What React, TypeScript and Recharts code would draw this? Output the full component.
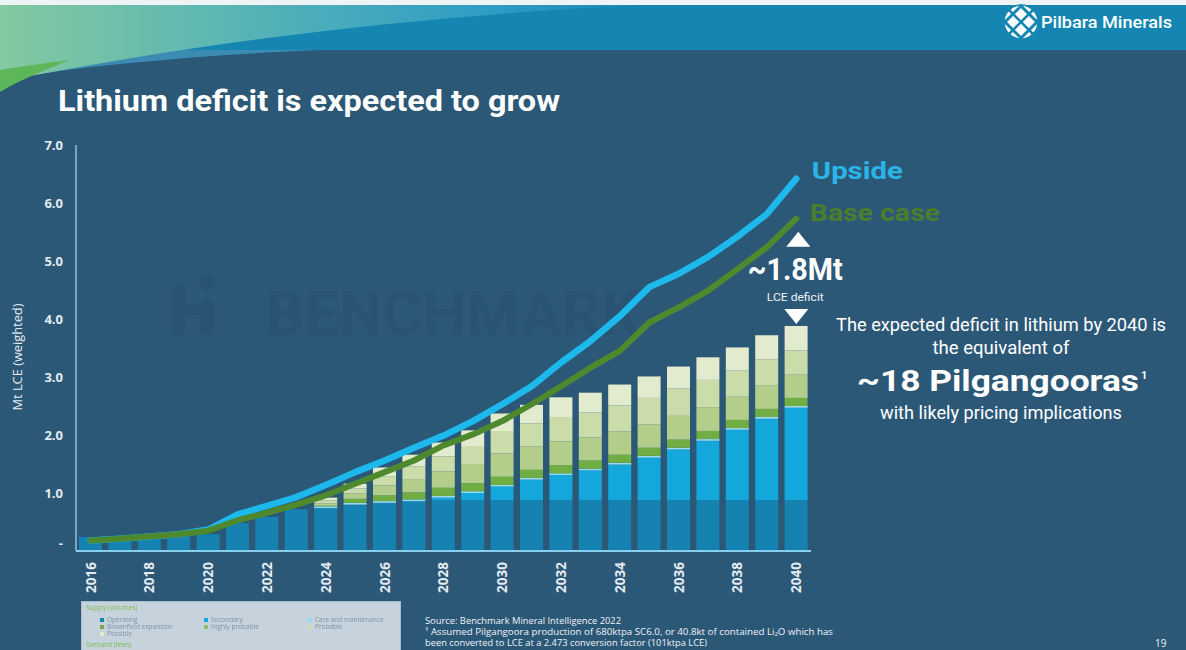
import React from 'react';
import { ComposedChart, Bar, Line, XAxis, YAxis, ReferenceDot } from 'recharts';

// Supply/demand outlook, Mt LCE (weighted)
const years = [
  '2016', '2017', '2018', '2019', '2020', '2021', '2022', '2023', '2024', '2025', '2026', '2027', '2028',
  '2029', '2030', '2031', '2032', '2033', '2034', '2035', '2036', '2037', '2038', '2039', '2040',
];

// Supply (volumes), stacked bottom to top
const operating = [0.24, 0.22, 0.24, 0.26, 0.29, 0.48, 0.59, 0.72, 0.74, 0.79, 0.82, 0.85, 0.88, 0.88, 0.88, 0.88, 0.88, 0.88, 0.88, 0.88, 0.88, 0.88, 0.88, 0.88, 0.88];
const secondary = [0, 0, 0, 0, 0, 0, 0, 0, 0, 0.01, 0.01, 0.01, 0.04, 0.12, 0.23, 0.35, 0.43, 0.51, 0.61, 0.73, 0.87, 1.02, 1.21, 1.4, 1.59];
const careMaintenance = [0, 0, 0, 0, 0, 0, 0, 0, 0.03, 0.03, 0.03, 0.03, 0.03, 0.03, 0.03, 0.03, 0.03, 0.03, 0.03, 0.03, 0.03, 0.03, 0.03, 0.03, 0.03];
const brownfield = [0, 0, 0, 0, 0, 0, 0, 0, 0.01, 0.07, 0.1, 0.12, 0.14, 0.14, 0.14, 0.14, 0.14, 0.14, 0.14, 0.14, 0.14, 0.14, 0.14, 0.14, 0.14];
const highlyProbable = [0, 0, 0, 0, 0, 0, 0, 0, 0.04, 0.09, 0.17, 0.23, 0.28, 0.33, 0.4, 0.4, 0.41, 0.4, 0.4, 0.4, 0.41, 0.41, 0.4, 0.41, 0.4];
const probable = [0, 0, 0, 0, 0, 0, 0, 0, 0.05, 0.09, 0.16, 0.22, 0.26, 0.31, 0.39, 0.4, 0.42, 0.43, 0.45, 0.46, 0.47, 0.47, 0.45, 0.44, 0.42];
const possible = [0, 0, 0, 0, 0, 0, 0, 0, 0.05, 0.08, 0.15, 0.2, 0.24, 0.27, 0.3, 0.32, 0.34, 0.34, 0.36, 0.37, 0.38, 0.39, 0.4, 0.42, 0.42];

// Demand (lines)
const upside = [0.18, 0.21, 0.25, 0.29, 0.37, 0.63, 0.78, 0.93, 1.14, 1.36, 1.56, 1.78, 1.99, 2.24, 2.53, 2.84, 3.25, 3.62, 4.05, 4.55, 4.78, 5.07, 5.42, 5.81, 6.42];
const baseCase = [0.18, 0.21, 0.25, 0.29, 0.35, 0.53, 0.66, 0.8, 0.96, 1.16, 1.36, 1.56, 1.82, 2.01, 2.24, 2.53, 2.84, 3.16, 3.45, 3.94, 4.2, 4.49, 4.86, 5.24, 5.73];

const yTicks = [0, 1, 2, 3, 4, 5, 6, 7];

const data = years.map((year, i) => ({
  year,
  operating: operating[i],
  secondary: secondary[i],
  careMaintenance: careMaintenance[i],
  brownfield: brownfield[i],
  highlyProbable: highlyProbable[i],
  probable: probable[i],
  possible: possible[i],
  upside: upside[i],
  baseCase: baseCase[i],
}));

const last = years.length - 1;
const lastYear = years[last];
const supplyLast =
  operating[last] + secondary[last] + careMaintenance[last] + brownfield[last] +
  highlyProbable[last] + probable[last] + possible[last];

const BG = '#2c5878';
const C = {
  operating: '#1682b2',
  secondary: '#13a7dc',
  careMaintenance: '#95dbf2',
  brownfield: '#70ad43',
  highlyProbable: '#b3ce8b',
  probable: '#cadca9',
  possible: '#e3ebcf',
  upside: '#1db9ec',
  baseCase: '#4f892d',
};

const TICK_FONT = "'Open Sans', 'DejaVu Sans', sans-serif";
const SLIDE_FONT = "Roboto, 'Open Sans', sans-serif";

function YearTick(props: any) {
  const { x, y, payload } = props;
  return (
    <text
      transform={`translate(${x},${y + 3}) rotate(-90)`}
      textAnchor="end"
      dy="0.36em"
      fill="#e4ecf1"
      fontFamily={TICK_FONT}
      fontWeight={700}
      fontSize={13.5}
    >
      {payload.value}
    </text>
  );
}

function ValueTick(props: any) {
  const { x, y, payload } = props;
  const v = payload.value as number;
  return (
    <text
      x={x}
      y={v === 0 ? y - 8 : y}
      textAnchor="end"
      dy="0.36em"
      fill="#e4ecf1"
      fontFamily={TICK_FONT}
      fontWeight={700}
      fontSize={13}
    >
      {v === 0 ? '-' : v.toFixed(1)}
    </text>
  );
}

const UpsideTag = (p: any) => (
  <text x={p.cx + 15.5} y={p.cy} fill="#2ab4e7" fontFamily={SLIDE_FONT} fontWeight={700} fontSize={23}
    textLength={91} lengthAdjust="spacingAndGlyphs">
    Upside
  </text>
);

const BaseTag = (p: any) => (
  <g>
    <text x={p.cx + 13.5} y={p.cy + 2} fill="#4b7e2c" fontFamily={SLIDE_FONT} fontWeight={700} fontSize={23}
      textLength={130} lengthAdjust="spacingAndGlyphs">
      Base case
    </text>
    <path d={`M${p.cx + 2},${p.cy + 13} L${p.cx + 14},${p.cy + 28} L${p.cx - 10},${p.cy + 28} Z`} fill="#ffffff" />
  </g>
);

const SupplyTag = (p: any) => (
  <g>
    <path d={`M${p.cx},${p.cy - 2} L${p.cx + 12},${p.cy - 17} L${p.cx - 12},${p.cy - 17} Z`} fill="#ffffff" />
    <text x={p.cx - 1} y={p.cy - 46} textAnchor="middle" fill="#ffffff" fontFamily={SLIDE_FONT} fontWeight={700}
      fontSize={32} textLength={95} lengthAdjust="spacingAndGlyphs">
      ~1.8Mt
    </text>
    <text x={p.cx - 1} y={p.cy - 25} textAnchor="middle" fill="#eef3f6" fontFamily={SLIDE_FONT} fontSize={11}
      textLength={57} lengthAdjust="spacingAndGlyphs">
      LCE deficit
    </text>
  </g>
);

const legendRows: { label: string; color: string; x: number; y: number }[] = [
  { label: 'Operating', color: C.operating, x: 18, y: 18 },
  { label: 'Secondary', color: C.secondary, x: 122, y: 18 },
  { label: 'Care and maintenance', color: C.careMaintenance, x: 226, y: 18 },
  { label: 'Brownfield expansion', color: C.brownfield, x: 18, y: 25 },
  { label: 'Highly probable', color: '#8fbf62', x: 122, y: 25 },
  { label: 'Probable', color: C.probable, x: 226, y: 25 },
  { label: 'Possible', color: C.possible, x: 18, y: 32 },
];

function Backdrop() {
  return (
    <svg width={1186} height={650} style={{ position: 'absolute', left: 0, top: 0 }}>
      <defs>
        <linearGradient id="swoosh" x1="0" y1="0" x2="1" y2="0">
          <stop offset="0" stopColor="#84c9a0" />
          <stop offset="0.35" stopColor="#5bb6b4" />
          <stop offset="0.75" stopColor="#2f9dc4" />
          <stop offset="1" stopColor="#1a8cb8" />
        </linearGradient>
      </defs>
      <rect x={0} y={0} width={1186} height={650} fill={BG} />
      <rect x={0} y={0} width={1186} height={5} fill="#eef3f5" />
      <rect x={0} y={5} width={1186} height={45} fill="#1586b2" />
      <path d="M0,50 L320,50 C220,54 90,64 0,80 Z" fill="#3b8bb3" />
      <path d="M0,5 L640,5 C460,14 240,34 0,82 Z" fill="url(#swoosh)" />
      <path d="M0,70 C25,66 45,63 70,60 C45,70 20,80 0,92 Z" fill="#5db65a" />
      {/* watermark */}
      <g fill="#2a5373">
        <rect x={172} y={285} width={14} height={50} rx={6} />
        <rect x={200} y={300} width={14} height={35} rx={6} />
        <circle cx={207} cy={283} r={8} />
        <rect x={180} y={305} width={30} height={10} />
        <text x={265} y={335} fontFamily={SLIDE_FONT} fontWeight={700} fontSize={62}
          textLength={375} lengthAdjust="spacingAndGlyphs">
          BENCHMARK
        </text>
      </g>
    </svg>
  );
}

function Overlay() {
  return (
    <svg width={1186} height={650} style={{ position: 'absolute', left: 0, top: 0, pointerEvents: 'none' }}>
      {/* title */}
      <text x={58} y={111} fill="#ffffff" fontFamily={SLIDE_FONT} fontWeight={700} fontSize={30}
        textLength={502} lengthAdjust="spacingAndGlyphs">
        Lithium deficit is expected to grow
      </text>

      {/* logo */}
      <g>
        <circle cx={1021} cy={22} r={17} fill="#ffffff" />
        <path d="M1021,6 L1037,22 L1021,38 L1005,22 Z" fill="none" stroke="#1586b2" strokeWidth={3} />
        <path d="M1009,10 L1033,34 M1033,10 L1009,34" stroke="#1586b2" strokeWidth={2.5} />
        <circle cx={1021} cy={22} r={17} fill="none" stroke="#1586b2" strokeWidth={1.5} />
      </g>
      <text x={1041} y={28} fill="#ffffff" fontFamily={SLIDE_FONT} fontWeight={500} fontSize={17}
        textLength={131} lengthAdjust="spacingAndGlyphs">
        Pilbara Minerals
      </text>

      {/* axis title */}
      <text transform="translate(22,357) rotate(-90)" textAnchor="middle" fill="#e4ecf1" fontFamily={TICK_FONT}
        fontSize={12.5} textLength={107} lengthAdjust="spacingAndGlyphs">
        Mt LCE (weighted)
      </text>

      {/* commentary */}
      <g fill="#ffffff" fontFamily={SLIDE_FONT}>
        <text x={1001} y={331} textAnchor="middle" fontSize={17.5} textLength={330} lengthAdjust="spacingAndGlyphs">
          The expected deficit in lithium by 2040 is
        </text>
        <text x={1001} y={354} textAnchor="middle" fontSize={17.5} textLength={137} lengthAdjust="spacingAndGlyphs">
          the equivalent of
        </text>
        <text x={857} y={391} fontSize={30} fontWeight={700} textLength={282} lengthAdjust="spacingAndGlyphs">
          ~18 Pilgangooras
        </text>
        <text x={1141} y={379} fontSize={11} fontWeight={700}>1</text>
        <text x={1001} y={419} textAnchor="middle" fontSize={17.5} textLength={242} lengthAdjust="spacingAndGlyphs">
          with likely pricing implications
        </text>
      </g>

      {/* source */}
      <g fill="#eef3f6" fontFamily={TICK_FONT} fontSize={8.5}>
        <text x={425} y={624} textLength={196} lengthAdjust="spacingAndGlyphs">
          Source: Benchmark Mineral Intelligence 2022
        </text>
        <text x={425} y={635} textLength={408} lengthAdjust="spacingAndGlyphs">
          ¹ Assumed Pilgangoora production of 680ktpa SC6.0, or 40.8kt of  contained Li₂O which has
        </text>
        <text x={425} y={646} textLength={282} lengthAdjust="spacingAndGlyphs">
          been converted to LCE at a 2.473 conversion factor (101ktpa LCE)
        </text>
      </g>
      <text x={1155} y={647} fill="#eef3f6" fontFamily={TICK_FONT} fontSize={10}>19</text>
    </svg>
  );
}

function LegendBox() {
  return (
    <div
      style={{
        position: 'absolute',
        left: 81,
        top: 601,
        width: 320,
        height: 49,
        background: '#c7d3dc',
        border: '1px solid #a9bccb',
        borderBottom: 'none',
        boxSizing: 'border-box',
        filter: 'blur(0.5px)',
        fontFamily: TICK_FONT,
        fontSize: 6.5,
        color: '#7f92a2',
        overflow: 'hidden',
      }}
    >
      <div style={{ position: 'absolute', left: 4, top: 2, color: '#7dbb4e', lineHeight: '8px' }}>Supply (volumes)</div>
      {legendRows.map((r) => (
        <div key={r.label} style={{ position: 'absolute', left: r.x, top: r.y - 4, whiteSpace: 'nowrap', lineHeight: '8px' }}>
          <span style={{ display: 'inline-block', width: 4, height: 4, background: r.color, marginRight: 3 }} />
          {r.label}
        </div>
      ))}
      <div style={{ position: 'absolute', left: 4, top: 39, color: '#7dbb4e', lineHeight: '8px' }}>Demand (lines)</div>
    </div>
  );
}

export default function App() {
  return (
    <div style={{ position: 'absolute', left: 0, top: 0, width: 1186, height: 650, overflow: 'hidden', background: BG }}>
      <Backdrop />
      <div style={{ position: 'absolute', left: 0, top: 0 }}>
        <ComposedChart
          width={1186}
          height={650}
          data={data}
          margin={{ top: 145, right: 375, bottom: 49, left: 0 }}
        >
          <XAxis
            dataKey="year"
            interval={1}
            height={50}
            tickLine={false}
            axisLine={{ stroke: '#86cfee', strokeWidth: 2 }}
            tick={<YearTick />}
          />
          <YAxis
            width={76}
            domain={[0, 7]}
            ticks={yTicks}
            tickLine={false}
            tickMargin={7}
            axisLine={{ stroke: '#93bfdb', strokeWidth: 1.5 }}
            tick={<ValueTick />}
          />
          <Bar dataKey="operating" stackId="s" fill={C.operating} barSize={23} isAnimationActive={false} />
          <Bar dataKey="secondary" stackId="s" fill={C.secondary} barSize={23} isAnimationActive={false} />
          <Bar dataKey="careMaintenance" stackId="s" fill={C.careMaintenance} barSize={23} isAnimationActive={false} />
          <Bar dataKey="brownfield" stackId="s" fill={C.brownfield} barSize={23} isAnimationActive={false} />
          <Bar dataKey="highlyProbable" stackId="s" fill={C.highlyProbable} barSize={23} isAnimationActive={false} />
          <Bar dataKey="probable" stackId="s" fill={C.probable} barSize={23} isAnimationActive={false} />
          <Bar dataKey="possible" stackId="s" fill={C.possible} barSize={23} isAnimationActive={false} />
          <Line
            dataKey="upside"
            type="linear"
            stroke={C.upside}
            strokeWidth={6.5}
            strokeLinecap="round"
            strokeLinejoin="round"
            dot={false}
            isAnimationActive={false}
          />
          <Line
            dataKey="baseCase"
            type="linear"
            stroke={C.baseCase}
            strokeWidth={6}
            strokeLinecap="round"
            strokeLinejoin="round"
            dot={false}
            isAnimationActive={false}
          />
          <ReferenceDot x={lastYear} y={upside[last]} shape={UpsideTag} ifOverflow="visible" />
          <ReferenceDot x={lastYear} y={baseCase[last]} shape={BaseTag} ifOverflow="visible" />
          <ReferenceDot x={lastYear} y={supplyLast} shape={SupplyTag} ifOverflow="visible" />
        </ComposedChart>
      </div>
      <Overlay />
      <LegendBox />
    </div>
  );
}
